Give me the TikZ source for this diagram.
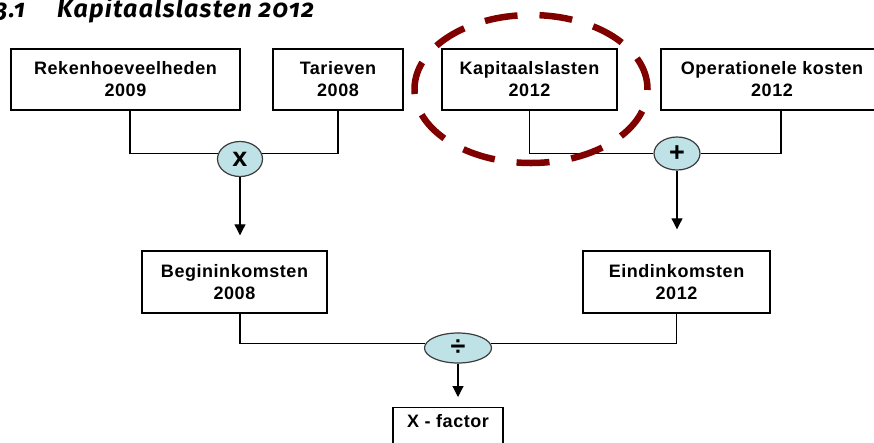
\documentclass[tikz,border=0pt]{standalone}
\usepackage{fontspec}
\setmainfont[LetterSpace=3]{Liberation Sans}
\newfontfamily\titlefont[Numbers=OldStyle, LetterSpace=5]{Fira Sans}
\usetikzlibrary{arrows.meta,shapes.geometric}
\definecolor{opfill}{RGB}{190,226,230}
\definecolor{opline}{RGB}{60,60,60}
\definecolor{ringred}{RGB}{128,0,0}

\begin{document}
\begin{tikzpicture}[x=1pt,y=-1pt]
	\tikzstyle{every node}=[inner sep=0pt, align=center, font=\fontsize{18}{22}\selectfont\bfseries]
	\tikzstyle{box}=[draw, rectangle, line width=1.4pt, minimum height=61pt]
	\tikzstyle{op}=[draw=opline, fill=opfill, ellipse, line width=1.2pt, font=\fontsize{27}{27}\selectfont\bfseries]
	\tikzstyle{heading}=[font=\titlefont\bfseries\itshape\fontsize{25}{25}\selectfont]
	\tikzstyle{link}=[line width=1.1pt]
	\tikzstyle{flow}=[line width=1.1pt, -{Triangle[length=11pt,width=11pt]}]
	\tikzstyle{highlight}=[draw=ringred, line width=6.5pt, dash pattern=on 33pt off 22pt]
	\useasboundingbox (0,0) rectangle (874,442);
	\draw (25,17) node (num) [heading, anchor=base east] {3.1};
	\draw (57,17) node (title) [heading, anchor=base west] {Kapitaalslasten 2012};
	\draw (125.5,79.5) node (rek) [box, minimum width=229pt] {Rekenhoeveelheden\\2009};
	\draw (338,79.5) node (tar) [box, minimum width=130pt] {Tarieven\\2008};
	\draw (529.5,79.5) node (kap) [box, minimum width=175pt] {Kapitaalslasten\\2012};
	\draw (772,79.5) node (ope) [box, minimum width=222pt] {Operationele kosten\\2012};
	\draw (240,159) node (mul) [op, minimum width=45pt, minimum height=35pt] {x};
	\draw (677,153.5) node (plus) [op, minimum width=46pt, minimum height=33pt] {+};
	\draw (234.5,282) node (beg) [box, minimum width=185pt, minimum height=62pt] {Begininkomsten\\2008};
	\draw (676.5,282) node (ein) [box, minimum width=187pt, minimum height=62pt] {Eindinkomsten\\2012};
	\draw (458,348) node (div) [op, minimum width=67pt, minimum height=30pt] {÷};
	\draw (448,407) node (xf) [box, anchor=north, minimum width=110pt, inner ysep=7pt, text height=13pt, text depth=40pt] {X - factor};
	\draw[link] ([xshift=4.5pt]rek.south) |- (mul.165);
	\draw[link] (tar.south) |- (mul.15);
	\draw[flow, shorten >=15pt] (mul.south) -- (mul.south |- beg.north);
	\draw[link] (kap.south) |- (plus.west);
	\draw[link] ([xshift=9pt]ope.south) |- (plus.east);
	\draw[flow, shorten >=21pt] (plus.south) -- (plus.south |- ein.north);
	\draw[link] ([xshift=5.5pt]beg.south) |- (div.172);
	\draw[link] (ein.south) |- (div.8);
	\draw[flow, shorten >=10pt] (div.south) -- (div.south |- xf.north);
	\draw[highlight] (531,89) ellipse (116.5pt and 74pt);
\end{tikzpicture}
\end{document}
